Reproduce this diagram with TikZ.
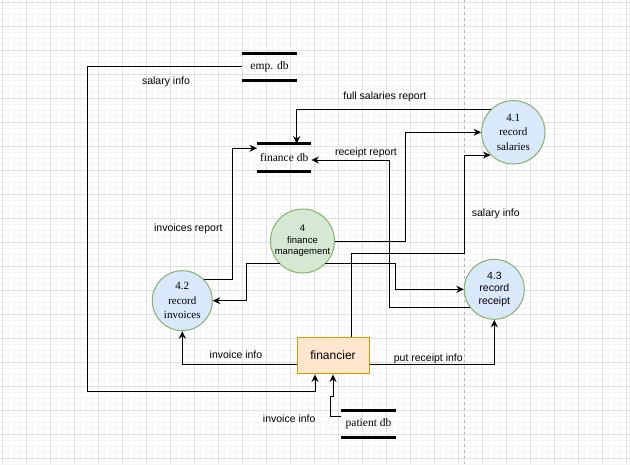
\documentclass[tikz,border=0pt]{standalone}
\usepackage{fontspec}
\setmainfont{Liberation Serif}
\newfontfamily\labelsans{Liberation Sans}
\usetikzlibrary{arrows.meta,calc}
\definecolor{gridmajor}{HTML}{E0E0E0}
\definecolor{gridminor}{HTML}{F6F6F6}
\definecolor{pageedge}{HTML}{B8B8B8}
\definecolor{procfill}{HTML}{DAE8FC}
\definecolor{mainfill}{HTML}{D5E8D4}
\definecolor{procline}{HTML}{82B366}
\definecolor{actorfill}{HTML}{FFE6CC}
\definecolor{actorline}{HTML}{D79B00}

\begin{document}
\begin{tikzpicture}[x=1pt,y=-1pt,
  flow/.style={draw=black, line width=1pt,
    -{Stealth[length=7.5pt,width=7pt,inset=2.5pt]}},
  proc/.style={circle, draw=procline, line width=1pt, fill=procfill,
    minimum size=60pt, inner sep=0pt, align=center},
  serifproc/.style={proc, font=\fontsize{11}{14.7}\selectfont},
  store/.style={minimum width=54pt, minimum height=27pt, inner sep=0pt,
    font=\fontsize{11.5}{13}\selectfont},
  storebar/.style={line width=3pt},
  flowlabel/.style={font=\labelsans\fontsize{10.5}{12}\selectfont, inner sep=0pt},
  actor/.style={rectangle, draw=actorline, line width=1pt, fill=actorfill,
    minimum width=72pt, minimum height=36.5pt, inner sep=0pt,
    font=\labelsans\fontsize{12}{14}\selectfont},
]
\useasboundingbox (0,0) rectangle (630,464);
\fill[white] (0,0) rectangle (630,464);

% background grid
\foreach \xx in {2,8,...,628} \draw[gridminor, line width=0.6pt] (\xx,0) -- (\xx,464);
\foreach \yy in {2,8,...,464} \draw[gridminor, line width=0.6pt] (0,\yy) -- (630,\yy);
\foreach \xx in {2,26,...,626} \draw[gridmajor, line width=0.7pt] (\xx,0) -- (\xx,464);
\foreach \yy in {2,26,...,458} \draw[gridmajor, line width=0.7pt] (0,\yy) -- (630,\yy);

% page edge
\draw[pageedge, line width=0.7pt, dash pattern=on 3pt off 3pt] (464.3,0) -- (464.3,464);

% data stores
\node[store] (emp) at (269.5,66.8) {emp. db};
\node[store] (findb) at (284.2,157.3) {finance db};
\node[store] (patdb) at (368.5,423.7) {patient db};
\foreach \s in {emp,findb,patdb}{
  \draw[storebar] (\s.north west) -- (\s.north east);
  \draw[storebar] (\s.south west) -- (\s.south east);
}

% processes
\node[serifproc, minimum size=63.4pt] (c41) at (513.3,132.3) {4.1\\record\\salaries};
\node[serifproc] (c42) at (182.3,300.7) {4.2\\record\\invoices};
\node[proc, font=\labelsans\fontsize{10.5}{12.2}\selectfont] (c43) at (494.3,289.3) {4.3\\record\\receipt};
\node[proc, fill=mainfill, font=\labelsans\fontsize{9.5}{11.7}\selectfont] (c4) at (302.5,241) {4\\finance\\management};

% external entity
\node[actor] (fin) at (333,355.7) {financier};

% data flows
\draw[flow] (emp.west) -| (87,391) -| ($(fin.south)+(-18,0)$);
\draw[flow] ($(patdb.west)+(0,-7.5)$) -| (330,396) -| (fin.south);
\draw[flow] ($(fin.west)+(0,8.6)$) -| (c42.south);
\draw[flow] ($(fin.east)+(0,8.6)$) -| (c43.south);
\draw[flow] (c42.north east) -| (232.7,148.3) -- ($(findb.west)+(0,-9)$);
\draw[flow] (c4.south west) -| (246,300.7) -- (c42.east);
\draw[flow] (c4.south east) -| (395.7,289.3) -- (c43.west);
\draw[flow] (c4.east) -| (405,132.3) -- (c41.west);
\draw[flow] ($(fin.north)+(18,0)$) |- (464.5,253.3) |- (c41.south west);
\draw[flow] (c43.216) -| (389.3,160) -- ($(findb.east)+(0,2.7)$);
\draw[flow] (c41.north west) -| ($(findb.north)+(12.5,0)$);

% flow labels
\node[flowlabel] (lsal1) at (166,81.7) {salary info};
\node[flowlabel] (lfull) at (384.8,96.7) {full salaries report};
\node[flowlabel] (lrec) at (366,152.7) {receipt report};
\node[flowlabel] (linv) at (188.3,228.3) {invoices report};
\node[flowlabel] (lsal2) at (495.8,213.3) {salary info};
\node[flowlabel] (linvi1) at (236,355) {invoice info};
\node[flowlabel] (lput) at (428.3,358.3) {put receipt info};
\node[flowlabel] (linvi2) at (289.2,419) {invoice info};
\end{tikzpicture}
\end{document}
